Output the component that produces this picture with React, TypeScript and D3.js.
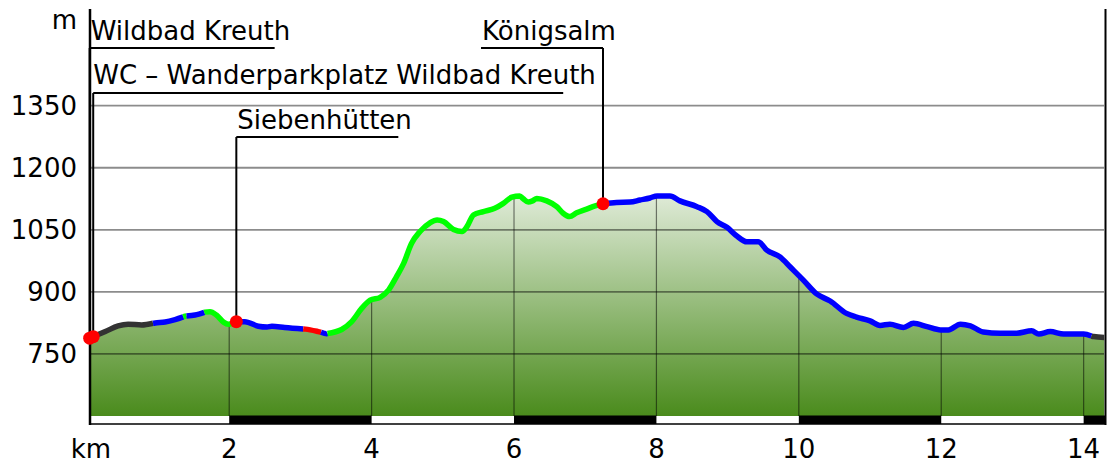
import React from 'react';
import * as d3 from 'd3';

// ---------- data ----------
const distanceKm = [
  0.04, 0.26, 0.44, 0.58, 0.77, 0.96, 1.10, 1.24, 1.38, 1.52, 1.66, 1.73, 1.82, 1.92, 1.99,
  2.10, 2.22, 2.41, 2.53, 2.60, 2.78, 3.07, 3.25, 3.37, 3.58, 3.72, 3.86, 3.98, 4.12, 4.24,
  4.35, 4.45, 4.56, 4.68, 4.82, 4.92, 5.01, 5.15, 5.27, 5.34, 5.43, 5.57, 5.73, 5.85, 5.97,
  6.08, 6.13, 6.20, 6.26, 6.32, 6.46, 6.60, 6.69, 6.78, 6.88, 7.02, 7.14, 7.25, 7.44, 7.63,
  7.77, 7.91, 8.01, 8.19, 8.33, 8.57, 8.71, 8.85, 8.99, 9.13, 9.27, 9.43, 9.55, 9.74, 9.88,
  10.06, 10.25, 10.44, 10.67, 10.81, 11.00, 11.14, 11.28, 11.47, 11.61, 11.80, 11.99, 12.10,
  12.27, 12.41, 12.59, 12.83, 13.06, 13.27, 13.37, 13.53, 13.72, 14.00, 14.14, 14.29,
];
const elevationM = [
  788, 804, 818, 822, 820, 825, 827, 833, 841, 844, 851, 852, 844, 827, 822,
  828, 828, 817, 815, 817, 814, 810, 804, 799, 809, 828, 860, 880, 887, 905,
  937, 969, 1017, 1046, 1067, 1074, 1070, 1051, 1046, 1058, 1086, 1094, 1102, 1114, 1129,
  1132, 1125, 1117, 1120, 1126, 1120, 1106, 1090, 1082, 1091, 1100, 1108, 1113, 1116, 1117,
  1122, 1127, 1132, 1132, 1120, 1106, 1094, 1070, 1056, 1035, 1021, 1021, 1001, 984, 960,
  929, 895, 878, 848, 839, 830, 819, 822, 814, 824, 816, 808, 808,
  822, 818, 803, 800, 800, 806, 798, 804, 798, 798, 792, 790,
];
const segmentStartKm = [0.04, 0.93, 1.355, 1.40, 1.65, 2.10, 3.04, 3.29, 3.38, 7.25, 14.11];
const segmentColors = ['#333333', '#0000ff', '#00ff00', '#0000ff', '#00ff00', '#0000ff', '#ff0000', '#0000ff', '#00ff00', '#0000ff', '#333333'];
const waypointNames = ['Wildbad Kreuth', 'WC – Wanderparkplatz Wildbad Kreuth', 'Siebenhütten', 'Königsalm'];
const waypointKm = [0.04, 0.09, 2.10, 7.25];
const yTicks = [750, 900, 1050, 1200, 1350];
const xTicks = [2, 4, 6, 8, 10, 12, 14];
const xTickLabels = ['2', '4', '6', '8', '10', '12', '14'];
const scaleBarStarts = [0, 2, 4, 6, 8, 10, 12, 14];

// ---------- layout ----------
const W = 1116;
const H = 461;
const KM_MAX = 14.3;
const FONT = '"DejaVu Sans", Verdana, sans-serif';
const FS = 26;
const labelLayout = [
  { baseline: 40, lineY: 48, textDx: 1, ulFrom: 0, ulTo: 185 },
  { baseline: 84, lineY: 93, textDx: 0, ulFrom: 0, ulTo: 470 },
  { baseline: 129, lineY: 137, textDx: 1, ulFrom: 0, ulTo: 162 },
  { baseline: 40, lineY: 48, textDx: -121, ulFrom: -122, ulTo: 0 },
];

const x = d3.scaleLinear().domain([0, KM_MAX]).range([86.8, 1105]);
const y = d3.scaleLinear().domain([600, 1350]).range([416, 105.7]);

type P = { km: number; e: number };

function elevAt(km: number): number {
  const i = d3.bisectLeft(distanceKm, km);
  if (i <= 0) return elevationM[0];
  if (i >= distanceKm.length) return elevationM[elevationM.length - 1];
  const k0 = distanceKm[i - 1], k1 = distanceKm[i];
  const t = (km - k0) / (k1 - k0);
  return elevationM[i - 1] + t * (elevationM[i] - elevationM[i - 1]);
}

export default function App() {
  const base: P[] = distanceKm.map((km, i) => ({ km, e: elevationM[i] }));
  const extra: P[] = segmentStartKm
    .filter((k) => !distanceKm.includes(k))
    .map((k) => ({ km: k, e: elevAt(k) }));
  const pts = [...base, ...extra].sort((a, b) => a.km - b.km);
  const lastKm = distanceKm[distanceKm.length - 1];

  const line = d3.line<P>().x((d) => x(d.km)).y((d) => y(d.e)).curve(d3.curveMonotoneX);
  const area = d3.area<P>().x((d) => x(d.km)).y0(y(600)).y1((d) => y(d.e)).curve(d3.curveMonotoneX);
  const areaPath = area(pts) || '';

  const segments = segmentStartKm.map((s, i) => {
    const e = i + 1 < segmentStartKm.length ? segmentStartKm[i + 1] : lastKm;
    const sp = pts.filter((p) => p.km >= s - 1e-9 && p.km <= e + 1e-9);
    return { d: line(sp) || '', color: segmentColors[i] };
  });

  const gridLeft = 91;
  const gridRight = 1104;

  return (
    <svg width={W} height={H} style={{ position: 'absolute', left: 0, top: 0, background: '#fff' }}
      fontFamily={FONT}>
      <defs>
        <linearGradient id="fillGrad" gradientUnits="userSpaceOnUse" x1="0" y1="185" x2="0" y2="416">
          <stop offset="0" stopColor="#e6efe0" />
          <stop offset="1" stopColor="#4a8b1c" />
        </linearGradient>
        <clipPath id="areaClip">
          <path d={areaPath} />
        </clipPath>
      </defs>

      {/* filled profile */}
      <path d={areaPath} fill="url(#fillGrad)" />

      {/* horizontal grid */}
      {yTicks.map((t) => (
        <line key={'h' + t} x1={gridLeft} x2={gridRight} y1={y(t)} y2={y(t)}
          stroke="#000" strokeOpacity={0.45} strokeWidth={1.8} />
      ))}
      {/* vertical grid inside the area */}
      <g clipPath="url(#areaClip)">
        {xTicks.map((t) => (
          <line key={'v' + t} x1={x(t)} x2={x(t)} y1={0} y2={420}
            stroke="#000" strokeOpacity={0.5} strokeWidth={1.2} />
        ))}
      </g>

      {/* scale bar */}
      {scaleBarStarts.map((s, i) => (
        i % 2 === 1 ? (
          <rect key={'b' + s} x={x(s)} y={415.5} width={Math.min(x(s + 2), x(KM_MAX)) - x(s)} height={8.5} fill="#000" />
        ) : null
      ))}
      <line x1={89} x2={1106} y1={424} y2={424} stroke="#000" strokeWidth={1.6} />

      {/* axis lines */}
      <line x1={90} x2={90} y1={9} y2={425} stroke="#000" strokeWidth={2.5} />
      <line x1={1105.5} x2={1105.5} y1={9} y2={425} stroke="#000" strokeWidth={2} />

      {/* profile line */}
      {segments.map((s, i) => (
        <path key={'s' + i} d={s.d} fill="none" stroke={s.color} strokeWidth={5.5}
          strokeLinejoin="round" strokeLinecap="butt" />
      ))}

      {/* waypoint leaders + labels */}
      {waypointNames.map((name, i) => {
        const L = labelLayout[i];
        const wx = x(waypointKm[i]);
        const wy = y(elevAt(waypointKm[i]));
        return (
          <g key={'w' + i}>
            <line x1={wx} x2={wx} y1={L.lineY} y2={wy} stroke="#000" strokeWidth={2} />
            <line x1={wx + L.ulFrom} x2={wx + L.ulTo} y1={L.lineY} y2={L.lineY} stroke="#000" strokeWidth={2} />
            <text x={wx + L.textDx} y={L.baseline} fontSize={FS} fill="#000">{name}</text>
          </g>
        );
      })}
      {waypointNames.map((name, i) => (
        <circle key={'c' + i} cx={x(waypointKm[i])} cy={y(elevAt(waypointKm[i]))} r={6.5} fill="#ff0000" />
      ))}

      {/* y axis labels */}
      <text x={77} y={29} fontSize={FS} textAnchor="end">m</text>
      {yTicks.map((t) => (
        <text key={'yl' + t} x={77} y={y(t) + 9.3} fontSize={FS} textAnchor="end">{t}</text>
      ))}

      {/* x axis labels */}
      <text x={91} y={458} fontSize={FS} textAnchor="middle">km</text>
      {xTicks.map((t, i) => (
        <text key={'xl' + t} x={x(t)} y={458} fontSize={FS} textAnchor="middle">{xTickLabels[i]}</text>
      ))}
    </svg>
  );
}
